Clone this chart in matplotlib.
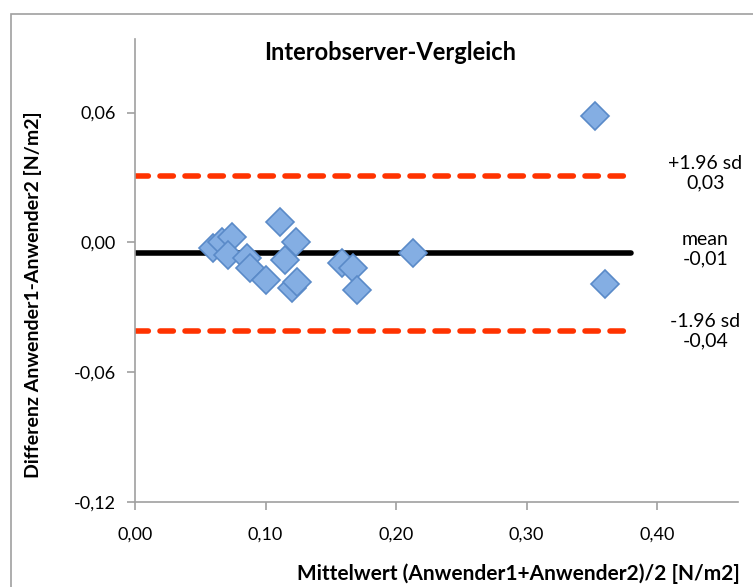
import matplotlib.pyplot as plt
from matplotlib.patches import Rectangle
from matplotlib.ticker import FuncFormatter

# Bland-Altman Punkte (Mittelwert, Differenz)
mittelwert = [0.060, 0.067, 0.074, 0.071, 0.086, 0.088, 0.100, 0.111, 0.123, 0.115,
              0.120, 0.1245, 0.159, 0.167, 0.170, 0.213, 0.3525, 0.360]
differenz = [-0.0026, 0.0001, 0.0025, -0.0059, -0.0073, -0.0119, -0.0175, 0.0094, 0.0001, -0.0082,
             -0.0210, -0.0185, -0.0096, -0.0119, -0.0221, -0.0050, 0.0585, -0.0193]

mean_diff = -0.005
upper_sd = 0.0307
lower_sd = -0.0409
line_x = [0.0, 0.38]
labels = ["+1.96 sd\n0,03", "mean\n-0,01", "-1.96 sd\n-0,04"]
label_y = [0.032, -0.003, -0.041]

x_ticks = [0.0, 0.1, 0.2, 0.3, 0.4]
y_ticks = [-0.12, -0.06, 0.0, 0.06]

plt.rcParams['font.family'] = ['Lato', 'DejaVu Sans']

fig = plt.figure(figsize=(7.53, 5.87), dpi=100)
ax = fig.add_axes([135 / 753, 1 - 502 / 587, (738 - 135) / 753, (502 - 39) / 587])

# Rahmen um das Diagramm
fig.patches.append(Rectangle((11 / 753, -0.1), 1.2, 1 - 14 / 587 + 0.1, transform=fig.transFigure,
                             fill=False, edgecolor='#A0A0A0', linewidth=1.2))

ax.plot(line_x, [mean_diff, mean_diff], color='black', linewidth=4, solid_capstyle='round', zorder=2)
for yv in (upper_sd, lower_sd):
    ax.plot(line_x, [yv, yv], color='#FF3300', linewidth=4, linestyle=(0, (2.4, 2.1)),
            dash_capstyle='round', zorder=2)

ax.plot(mittelwert, differenz, linestyle='none', marker='D', markersize=14.5,
        markerfacecolor='#84AEE3', markeredgecolor='#5A8AC8', markeredgewidth=1.2, zorder=3)

for t, yv in zip(labels, label_y):
    ax.text(0.437, yv, t, ha='center', va='center', fontsize=14, linespacing=1.15)

ax.set_xlim(0, (738 - 135) / 1305)
ax.set_ylim(-0.12, 0.094)
ax.set_xticks(x_ticks)
ax.set_yticks(y_ticks)
ax.xaxis.set_major_formatter(FuncFormatter(lambda v, p: f"{v:.2f}".replace('.', ',')))
ax.yaxis.set_major_formatter(FuncFormatter(lambda v, p: f"{v:.2f}".replace('.', ',')))
ax.tick_params(labelsize=13, color='#A0A0A0', length=6, width=1.2)
ax.tick_params(axis='x', pad=12)
ax.tick_params(axis='y', pad=8)

for s in ('top', 'right'):
    ax.spines[s].set_visible(False)
for s in ('left', 'bottom'):
    ax.spines[s].set_color('#A0A0A0')
    ax.spines[s].set_linewidth(1.2)

fig.text(390 / 753, 1 - 52 / 587, "Interobserver-Vergleich", ha='center', va='center',
         fontsize=17, fontweight='bold')
fig.text(740 / 753, 1 - 574 / 587, "Mittelwert (Anwender1+Anwender2)/2 [N/m2]", ha='right', va='center',
         fontsize=15, fontweight='bold')
fig.text(33 / 753, 1 - 295 / 587, "Differenz Anwender1-Anwender2 [N/m2]", ha='center', va='center',
         rotation=90, fontsize=14, fontweight='bold')

fig.savefig('out.png', dpi=100)
